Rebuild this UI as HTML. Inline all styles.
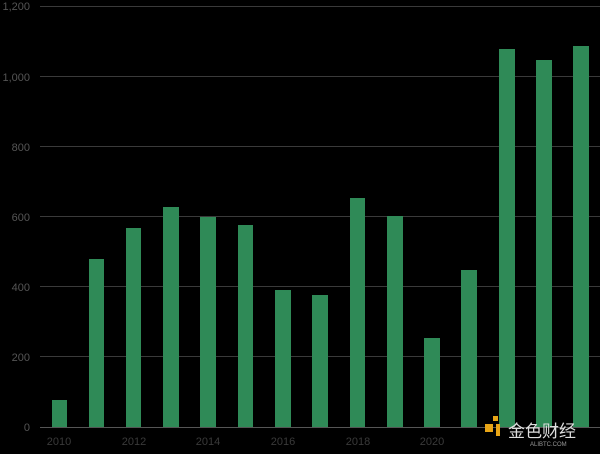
<!DOCTYPE html><html><head><style>body{margin:0;background:#000;width:600px;height:449px;overflow:hidden;font-family:"Liberation Sans",sans-serif}</style></head><body>
<svg width="600" height="449" xmlns="http://www.w3.org/2000/svg">
<rect width="600" height="449" fill="#000"/>
<g stroke="#3a3a3a" stroke-width="1">
<line x1="40" x2="600" y1="6.5" y2="6.5"/><line x1="40" x2="600" y1="76.5" y2="76.5"/><line x1="40" x2="600" y1="146.5" y2="146.5"/><line x1="40" x2="600" y1="216.5" y2="216.5"/><line x1="40" x2="600" y1="286.5" y2="286.5"/><line x1="40" x2="600" y1="356.5" y2="356.5"/><line x1="40" x2="600" y1="427.5" y2="427.5" stroke="#555"/>
</g>
<g fill="#555" font-size="11" text-anchor="end">
<text x="30" y="10">1,200</text><text x="30" y="81">1,000</text><text x="30" y="151">800</text><text x="30" y="221">600</text><text x="30" y="291">400</text><text x="30" y="361">200</text><text x="30" y="431">0</text>
</g>
<g fill="#3a3a3a" font-size="11" text-anchor="middle">
<text x="59" y="445">2010</text><text x="134" y="445">2012</text><text x="208" y="445">2014</text><text x="283" y="445">2016</text><text x="358" y="445">2018</text><text x="432" y="445">2020</text>
</g>
<g fill="#2f8a57">
<rect x="52" y="400" width="15" height="27"/>
<rect x="89" y="259" width="15" height="168"/>
<rect x="126" y="228" width="15" height="199"/>
<rect x="163" y="207" width="16" height="220"/>
<rect x="200" y="217" width="16" height="210"/>
<rect x="238" y="225" width="15" height="202"/>
<rect x="275" y="290" width="16" height="137"/>
<rect x="312" y="295" width="16" height="132"/>
<rect x="350" y="198" width="15" height="229"/>
<rect x="387" y="216" width="16" height="211"/>
<rect x="424" y="338" width="16" height="89"/>
<rect x="461" y="270" width="16" height="157"/>
<rect x="499" y="49" width="16" height="378"/>
<rect x="536" y="60" width="16" height="367"/>
<rect x="573" y="46" width="16" height="381"/>
</g>
<g fill="#e8a516"><rect x="485" y="424" width="8" height="8"/><rect x="493" y="416" width="5" height="5"/><rect x="496" y="424" width="4" height="12"/></g>
<text x="508" y="437" fill="#ddd" font-size="17" font-family="'Noto Sans CJK SC',sans-serif">金色财经</text>
<text x="530" y="446" fill="#999" font-size="6">ALIBTC.COM</text>
</svg></body></html>
